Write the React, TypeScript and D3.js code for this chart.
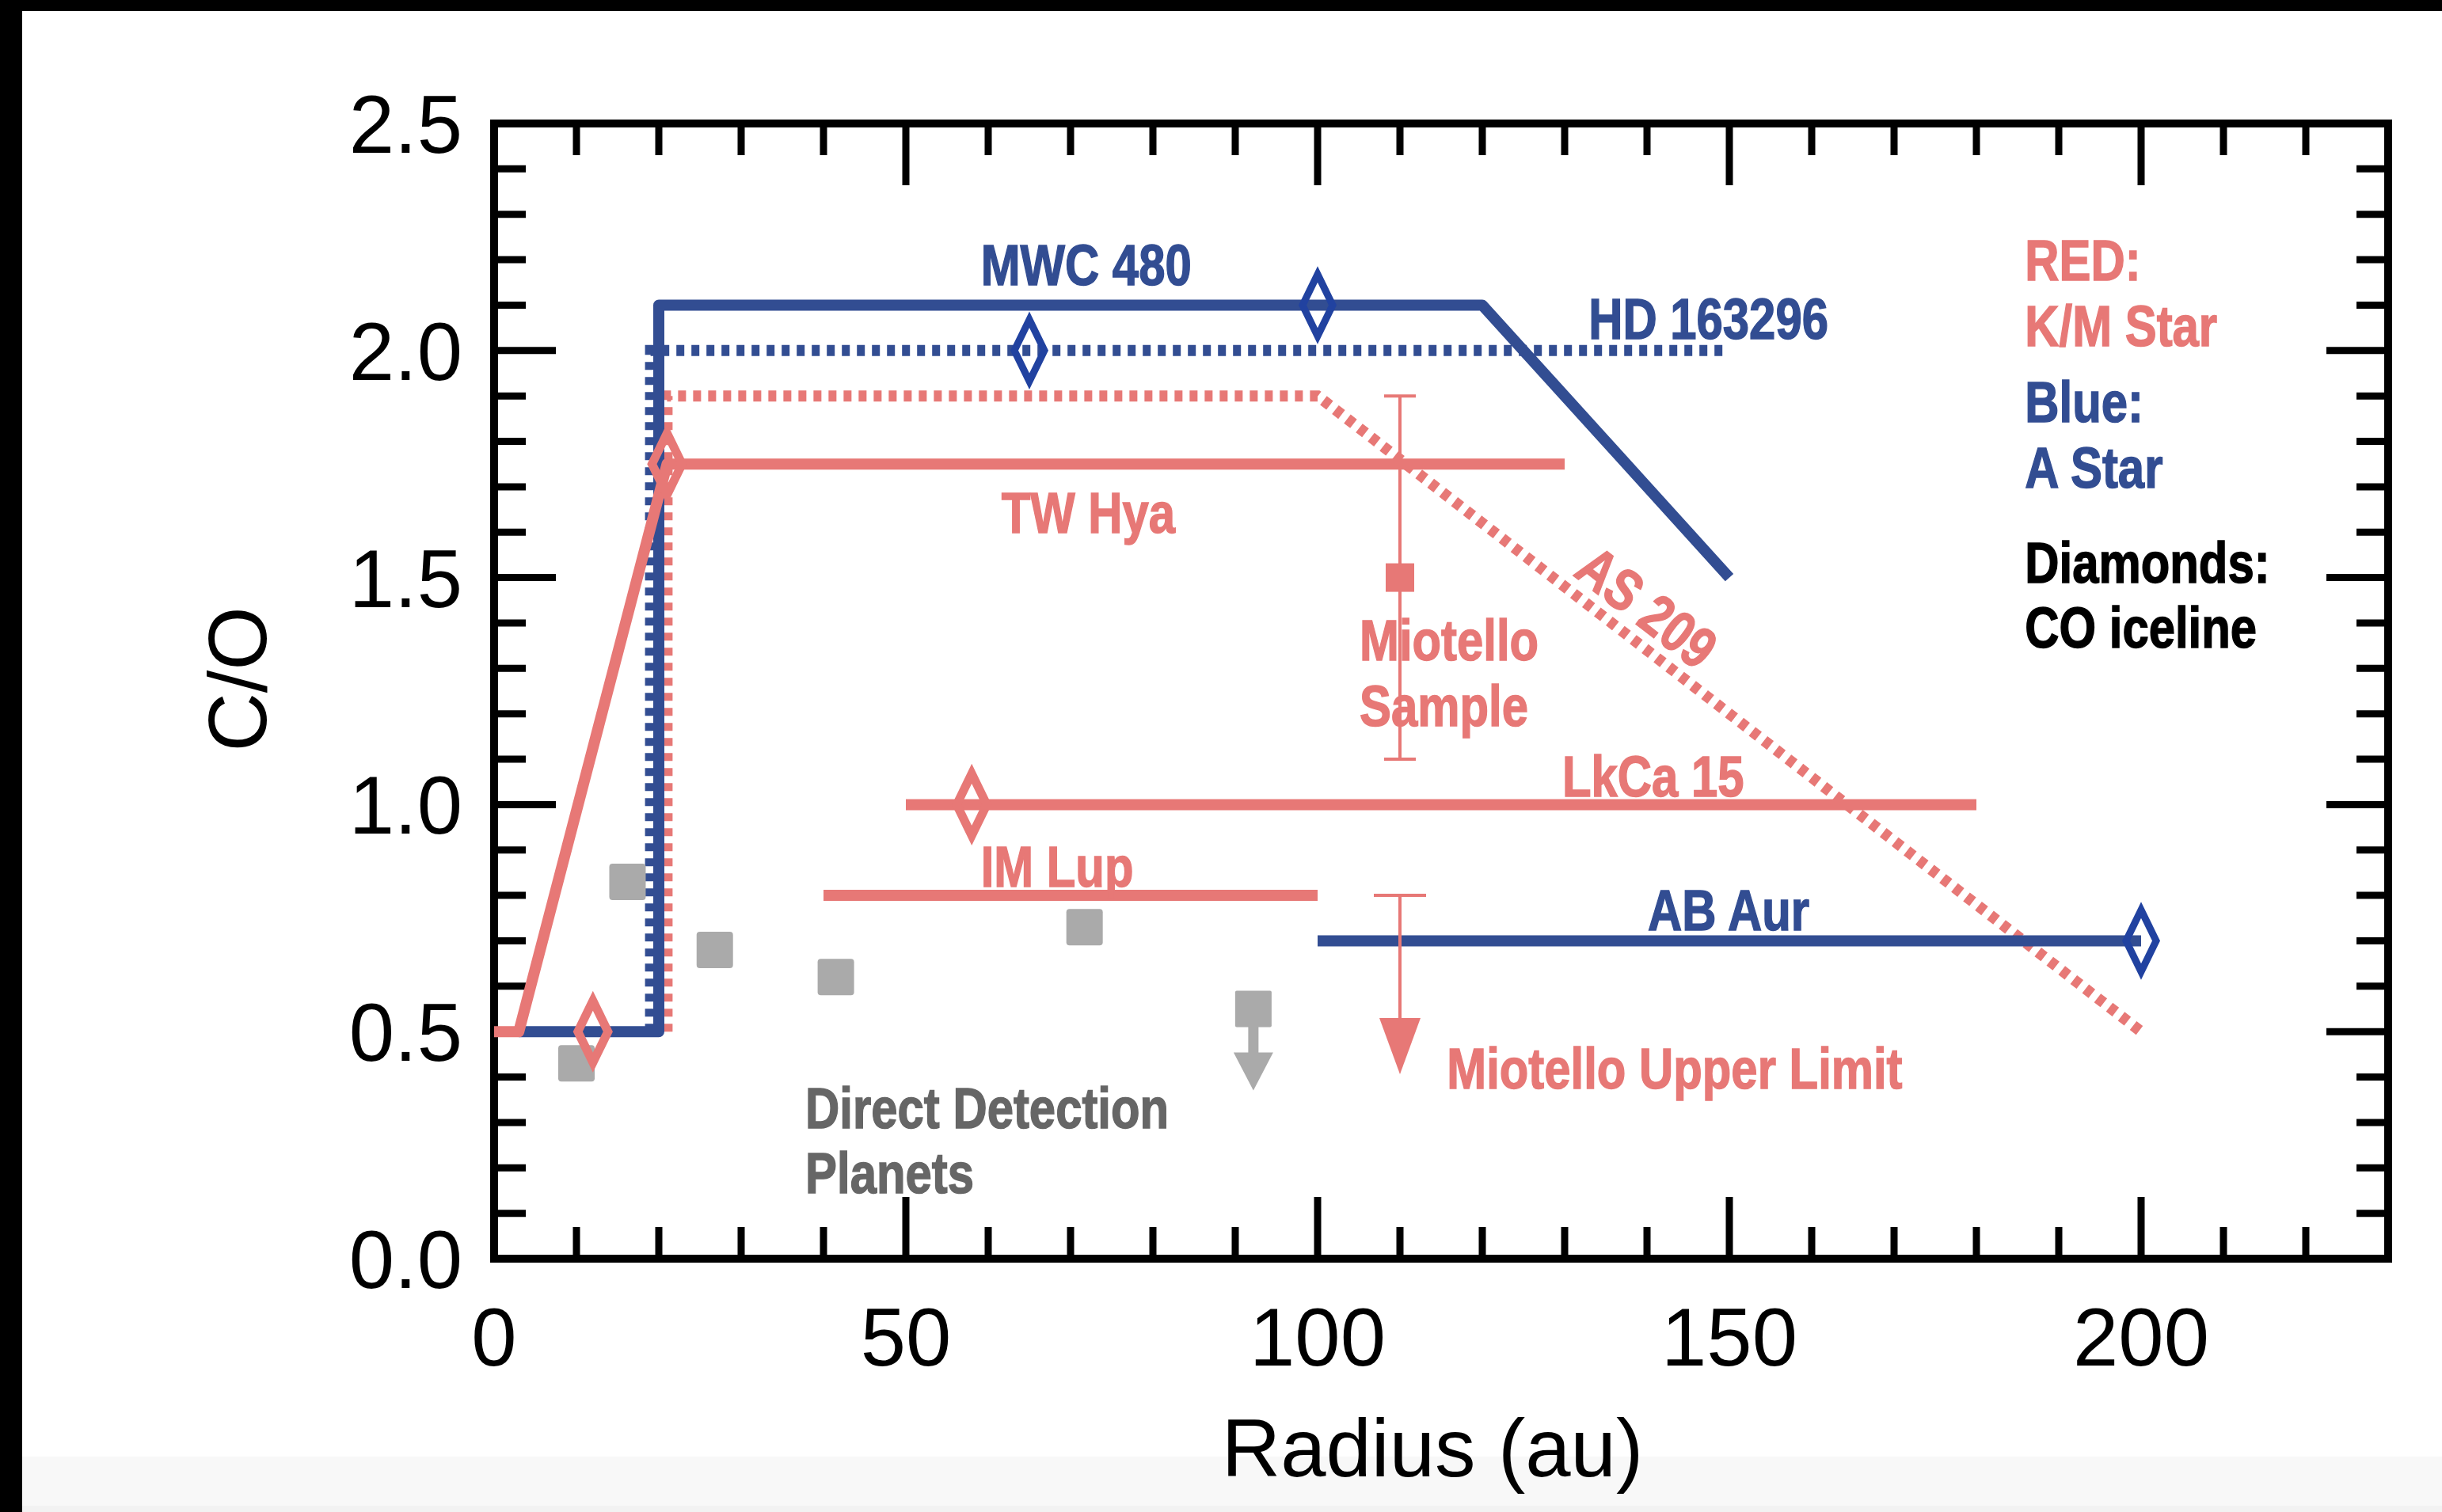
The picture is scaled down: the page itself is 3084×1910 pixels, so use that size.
import React from "react";
import * as d3 from "d3";

// axis ticks
const xMajor = [0, 50, 100, 150, 200];
const xMinor = d3.range(0, 231, 10);
const yMajor = [0, 0.5, 1.0, 1.5, 2.0, 2.5];
const yMinor = d3.range(0, 26).map(d => d / 10);
const yLabels = ["0.0", "0.5", "1.0", "1.5", "2.0", "2.5"];

// C/O profiles, [radius au, C/O]
const mwc480 = [[3, 0.5], [20, 0.5], [20, 2.1], [120, 2.1], [150, 1.5]];
const hd163296 = [[19, 0.5], [19, 2.0], [150, 2.0]];
const as209 = [[21, 0.5], [21, 1.9], [100, 1.9], [200, 0.5]];
const twHya = [[0, 0.5], [3, 0.5], [21, 1.75], [130, 1.75]];
const lkca15 = [[50, 1.0], [180, 1.0]];
const imLup = [[40, 0.8], [100, 0.8]];
const abAur = [[100, 0.7], [200, 0.7]];

// CO icelines
const blueDiamonds = [[100, 2.1], [65, 2.0], [200, 0.7]];
const redDiamonds = [[12, 0.5], [21, 1.75], [58, 1.0]];

// direct detection planets
const planets = [[10, 0.43], [16.2, 0.83], [26.8, 0.68], [41.5, 0.62], [71.7, 0.73]];
const planetLimits = [[92.2, 0.55]];

// Miotello sample
const sampleR = 110, sampleCO = 1.5, sampleLo = 1.1, sampleHi = 1.9;
const upperR = 110, upperCO = 0.8;

// annotations: text, radius, C/O of baseline start
const blueLabels = [["MWC 480", 59.1, 2.144], ["HD 163296", 132.9, 2.026], ["AB Aur", 140.1, 0.724]];
const redLabels = [["TW Hya", 61.6, 1.599], ["Miotello", 105.1, 1.318], ["Sample", 105.1, 1.173],
  ["LkCa 15", 129.7, 1.018], ["IM Lup", 59.1, 0.82], ["Miotello Upper Limit", 115.7, 0.375]];
const grayLabels = [["Direct Detection", 37.8, 0.288], ["Planets", 37.8, 0.145]];
const legend = [["RED:", 2.155, "red"], ["K/M Star", 2.01, "red"], ["Blue:", 1.843, "blue"],
  ["A Star", 1.698, "blue"], ["Diamonds:", 1.489, "black"], ["CO iceline", 1.346, "black"]];
const legendR = 185.9;

const RED = "#e77876";
const BLUE = "#324d92";
const DBLUE = "#2142a0";
const GRAY = "#aaaaaa";
const colors = { red: RED, blue: BLUE, black: "#000" };
const sans = "'Liberation Sans', Arial, Helvetica, sans-serif";
const NARROW = 0.82; // horizontal squeeze to mimic a condensed bold face

const W = 3084, H = 1910;
const x = d3.scaleLinear([0, 230], [624, 3016]);
const y = d3.scaleLinear([0, 2.5], [1590, 156]);
const line = d3.line().x(d => x(d[0])).y(d => y(d[1]));

const diamond = (d, w, h) => {
  const cx = x(d[0]), cy = y(d[1]);
  return `M${cx},${cy - h}L${cx + w},${cy}L${cx},${cy + h}L${cx - w},${cy}Z`;
};

const Label = ({ t, r, c, fill }) => (
  <text transform={`translate(${x(r)},${y(c)}) scale(${NARROW},1)`} fill={fill} stroke={fill}>{t}</text>
);

const App = () => {
  const left = x(0), right = x(230), top = y(2.5), bottom = y(0);
  return (
    <svg width={W} height={H} style={{ position: "absolute", left: 0, top: 0, background: "#fff" }}>
      <rect x={0} y={0} width={W} height={H} fill="#fff" />
      <rect x={28} y={1840} width={W - 28} height={70} fill="#f8f8f8" />
      <rect x={28} y={1902} width={W - 28} height={8} fill="#f2f2f2" />
      <rect x={0} y={0} width={W} height={14} fill="#000" />
      <rect x={0} y={0} width={28} height={H} fill="#000" />

      {/* ticks */}
      <g stroke="#000" strokeWidth={9}>
        {xMinor.map(v => {
          const len = xMajor.includes(v) ? 78 : 40;
          return (
            <g key={"x" + v}>
              <line x1={x(v)} x2={x(v)} y1={bottom} y2={bottom - len} />
              <line x1={x(v)} x2={x(v)} y1={top} y2={top + len} />
            </g>
          );
        })}
        {yMinor.map(v => {
          const len = yMajor.some(m => Math.abs(m - v) < 1e-6) ? 78 : 40;
          return (
            <g key={"y" + v}>
              <line x1={left} x2={left + len} y1={y(v)} y2={y(v)} />
              <line x1={right} x2={right - len} y1={y(v)} y2={y(v)} />
            </g>
          );
        })}
      </g>
      <rect x={left} y={top} width={right - left} height={bottom - top} fill="none" stroke="#000" strokeWidth={10} />

      {/* tick labels */}
      <g fontFamily={sans} fontSize={103} fill="#000">
        {xMajor.map(v => (
          <text key={v} x={x(v)} y={bottom + 135} textAnchor="middle">{v}</text>
        ))}
        {yMajor.map((v, i) => (
          <text key={v} x={left - 40} y={y(v)} dy="0.36em" textAnchor="end">{yLabels[i]}</text>
        ))}
        <text x={1809} y={1865} textAnchor="middle">Radius (au)</text>
        <text transform={`translate(336,858) rotate(-90)`} textAnchor="middle">C/O</text>
      </g>

      {/* dotted profiles */}
      <g fill="none" strokeWidth={14} strokeDasharray="10 9">
        <path d={line(hd163296)} stroke={BLUE} />
        <path d={line(as209)} stroke={RED} />
      </g>

      {/* solid profiles */}
      <g fill="none" strokeWidth={14} strokeLinejoin="round">
        <path d={line(mwc480)} stroke={BLUE} />
        <path d={line(abAur)} stroke={BLUE} />
        <path d={line(twHya)} stroke={RED} />
        <path d={line(lkca15)} stroke={RED} />
        <path d={line(imLup)} stroke={RED} />
      </g>

      {/* Miotello sample */}
      <g stroke={RED} strokeWidth={4}>
        <line x1={x(sampleR)} x2={x(sampleR)} y1={y(sampleHi)} y2={y(sampleLo)} />
        <line x1={x(sampleR) - 20} x2={x(sampleR) + 20} y1={y(sampleHi)} y2={y(sampleHi)} />
        <line x1={x(sampleR) - 20} x2={x(sampleR) + 20} y1={y(sampleLo)} y2={y(sampleLo)} />
        <rect x={x(sampleR) - 18} y={y(sampleCO) - 18} width={36} height={36} fill={RED} stroke="none" />
        <line x1={x(upperR) - 33} x2={x(upperR) + 33} y1={y(upperCO)} y2={y(upperCO)} />
        <line x1={x(upperR)} x2={x(upperR)} y1={y(upperCO)} y2={y(upperCO) + 160} />
        <path stroke="none" fill={RED}
          d={`M${x(upperR) - 26},${y(upperCO) + 155}L${x(upperR) + 26},${y(upperCO) + 155}L${x(upperR)},${y(upperCO) + 226}Z`} />
      </g>

      {/* planets */}
      <g fill={GRAY}>
        {planets.map((d, i) => (
          <rect key={i} x={x(d[0]) - 23} y={y(d[1]) - 23} width={46} height={46} rx={4} />
        ))}
        {planetLimits.map((d, i) => (
          <g key={"l" + i}>
            <rect x={x(d[0]) - 23} y={y(d[1]) - 23} width={46} height={46} rx={2} />
            <rect x={x(d[0]) - 6.5} y={y(d[1]) + 20} width={13} height={38} />
            <path d={`M${x(d[0]) - 25},${y(d[1]) + 55}L${x(d[0]) + 25},${y(d[1]) + 55}L${x(d[0])},${y(d[1]) + 103}Z`} />
          </g>
        ))}
      </g>

      {/* diamonds */}
      <g fill="none" strokeLinejoin="miter">
        {blueDiamonds.map((d, i) => (
          <path key={i} d={diamond(d, 19, 39)} stroke={DBLUE} strokeWidth={9} />
        ))}
        {redDiamonds.map((d, i) => (
          <path key={i} d={diamond(d, 19, 39)} stroke={RED} strokeWidth={11} />
        ))}
      </g>

      {/* annotations */}
      <g fontFamily={sans} fontWeight="bold" fontSize={73} strokeWidth={1.5}>
        {blueLabels.map(([t, r, c]) => <Label key={t} t={t} r={r} c={c} fill={BLUE} />)}
        {redLabels.map(([t, r, c]) => <Label key={t} t={t} r={r} c={c} fill={RED} />)}
        {grayLabels.map(([t, r, c]) => <Label key={t} t={t} r={r} c={c} fill="#666666" />)}
        <text transform={`translate(${x(140)},${y(1.435)}) rotate(37.7) scale(${NARROW},1)`}
          textAnchor="middle" dy="0.35em" fill={RED} stroke={RED}>AS 209</text>
        {legend.map(([t, c, k]) => <Label key={t} t={t} r={legendR} c={c} fill={colors[k]} />)}
      </g>
    </svg>
  );
};

export default App;
